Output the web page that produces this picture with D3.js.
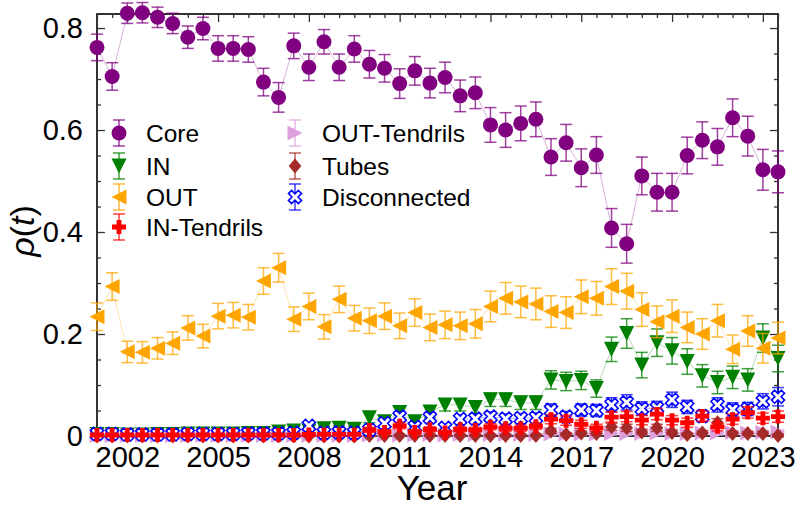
<!DOCTYPE html>
<html><head><meta charset="utf-8">
<script src="https://cdn.jsdelivr.net/npm/d3@7"></script>
<style>body{margin:0;background:#fff} svg{display:block;font-family:"Liberation Sans",Arial,sans-serif}</style>
</head><body><svg id="c" width="800" height="508"></svg>
<script>
const years = [2001,2001.5,2002,2002.5,2003,2003.5,2004,2004.5,2005,2005.5,2006,2006.5,2007,2007.5,2008,2008.5,2009,2009.5,2010,2010.5,2011,2011.5,2012,2012.5,2013,2013.5,2014,2014.5,2015,2015.5,2016,2016.5,2017,2017.5,2018,2018.5,2019,2019.5,2020,2020.5,2021,2021.5,2022,2022.5,2023,2023.5];

const core = [0.762,0.705,0.829,0.830,0.821,0.809,0.782,0.799,0.760,0.760,0.758,0.694,0.664,0.765,0.723,0.773,0.723,0.759,0.729,0.721,0.691,0.716,0.692,0.703,0.667,0.673,0.610,0.600,0.613,0.621,0.547,0.575,0.526,0.551,0.408,0.377,0.510,0.478,0.478,0.550,0.580,0.567,0.624,0.588,0.522,0.518];
const coreErr = [0.026,0.027,0.020,0.020,0.020,0.020,0.022,0.022,0.025,0.025,0.025,0.027,0.029,0.025,0.026,0.024,0.026,0.026,0.027,0.027,0.029,0.028,0.029,0.030,0.031,0.031,0.034,0.034,0.034,0.034,0.036,0.036,0.037,0.036,0.038,0.038,0.037,0.037,0.037,0.036,0.036,0.036,0.037,0.039,0.040,0.041];

const inn = [0.003,0.003,0.002,0.002,0.003,0.003,0.004,0.004,0.004,0.004,0.005,0.005,0.008,0.010,0.010,0.014,0.015,0.013,0.036,0.028,0.046,0.028,0.047,0.061,0.061,0.056,0.071,0.071,0.065,0.065,0.110,0.107,0.109,0.093,0.170,0.201,0.139,0.183,0.167,0.146,0.118,0.105,0.115,0.110,0.192,0.152];
const innErr = [0.002,0.002,0.002,0.002,0.002,0.002,0.002,0.002,0.002,0.002,0.002,0.002,0.003,0.004,0.004,0.005,0.005,0.005,0.010,0.009,0.011,0.009,0.011,0.012,0.012,0.012,0.013,0.013,0.013,0.013,0.018,0.018,0.018,0.017,0.024,0.029,0.025,0.027,0.026,0.025,0.022,0.022,0.022,0.022,0.028,0.026];

const out = [0.234,0.293,0.165,0.164,0.172,0.182,0.212,0.196,0.235,0.237,0.233,0.304,0.330,0.229,0.254,0.214,0.268,0.231,0.226,0.235,0.216,0.242,0.213,0.218,0.216,0.220,0.254,0.270,0.263,0.259,0.244,0.242,0.273,0.270,0.293,0.284,0.248,0.224,0.235,0.213,0.200,0.226,0.170,0.206,0.172,0.192];
const outErr = [0.027,0.027,0.021,0.021,0.021,0.022,0.024,0.023,0.025,0.025,0.025,0.026,0.028,0.024,0.026,0.024,0.026,0.025,0.025,0.026,0.025,0.027,0.026,0.027,0.027,0.028,0.030,0.031,0.031,0.031,0.031,0.031,0.033,0.033,0.035,0.035,0.033,0.031,0.032,0.030,0.030,0.032,0.028,0.030,0.029,0.031];

const inTendrils = [0.002,0.002,0.002,0.002,0.002,0.002,0.002,0.002,0.002,0.002,0.002,0.002,0.002,0.002,0.003,0.003,0.003,0.003,0.012,0.008,0.020,0.008,0.013,0.007,0.013,0.012,0.018,0.015,0.015,0.019,0.033,0.030,0.023,0.016,0.037,0.038,0.031,0.043,0.031,0.026,0.039,0.018,0.033,0.046,0.035,0.038];
const inTendrilsErr = [0.002,0.002,0.002,0.002,0.002,0.002,0.002,0.002,0.002,0.002,0.002,0.002,0.002,0.002,0.002,0.002,0.002,0.002,0.005,0.004,0.006,0.004,0.005,0.004,0.005,0.005,0.006,0.006,0.006,0.006,0.009,0.009,0.008,0.007,0.010,0.010,0.009,0.011,0.009,0.009,0.010,0.008,0.010,0.011,0.010,0.011];

const outTendrils = [0.001,0.001,0.001,0.001,0.001,0.001,0.001,0.001,0.001,0.001,0.001,0.001,0.001,0.001,0.001,0.001,0.001,0.001,0.002,0.002,0.002,0.002,0.003,0.002,0.003,0.003,0.003,0.003,0.003,0.003,0.004,0.004,0.004,0.004,0.005,0.005,0.005,0.006,0.005,0.005,0.006,0.006,0.007,0.006,0.007,0.008];
const outTendrilsErr = [0.001,0.001,0.001,0.001,0.001,0.001,0.001,0.001,0.001,0.001,0.001,0.001,0.001,0.001,0.001,0.001,0.001,0.001,0.002,0.002,0.002,0.002,0.002,0.002,0.002,0.002,0.002,0.002,0.002,0.002,0.003,0.003,0.003,0.003,0.003,0.003,0.003,0.004,0.003,0.003,0.004,0.004,0.004,0.004,0.004,0.004];

const tubes = [0.000,0.000,0.000,0.000,0.000,0.000,0.000,0.000,0.000,0.000,0.000,0.000,0.000,0.000,0.000,0.000,0.000,0.000,0.001,0.001,0.001,0.001,0.001,0.001,0.001,0.001,0.001,0.001,0.001,0.001,0.010,0.003,0.006,0.005,0.018,0.016,0.008,0.016,0.007,0.003,0.006,0.026,0.005,0.005,0.005,0.001];
const tubesErr = [0.001,0.001,0.001,0.001,0.001,0.001,0.001,0.001,0.001,0.001,0.001,0.001,0.001,0.001,0.001,0.001,0.001,0.001,0.002,0.002,0.002,0.002,0.002,0.002,0.002,0.002,0.002,0.002,0.002,0.002,0.005,0.003,0.004,0.004,0.007,0.007,0.005,0.007,0.005,0.003,0.004,0.008,0.004,0.004,0.004,0.003];

const disconnected = [0.004,0.004,0.003,0.003,0.003,0.003,0.004,0.004,0.004,0.004,0.005,0.005,0.005,0.006,0.020,0.006,0.007,0.006,0.012,0.025,0.038,0.018,0.036,0.016,0.033,0.034,0.038,0.034,0.035,0.036,0.051,0.038,0.051,0.050,0.061,0.066,0.054,0.055,0.071,0.057,0.039,0.061,0.052,0.053,0.068,0.077];
const disconnectedErr = [0.002,0.002,0.002,0.002,0.002,0.002,0.002,0.002,0.002,0.002,0.002,0.002,0.002,0.003,0.006,0.003,0.003,0.003,0.005,0.007,0.009,0.006,0.009,0.006,0.008,0.009,0.009,0.009,0.009,0.009,0.012,0.010,0.012,0.012,0.014,0.015,0.013,0.013,0.015,0.013,0.011,0.014,0.013,0.013,0.015,0.018];

const seriesNames = ["Core","IN","OUT","IN-Tendrils","OUT-Tendrils","Tubes","Disconnected"];
const xTickValues = [2002,2005,2008,2011,2014,2017,2020,2023];
const yTickValues = [0,0.2,0.4,0.6,0.8];
const yTickLabels = ["0","0.2","0.4","0.6","0.8"];

const seriesDefs = [
  {name:"Core", vals:core, err:coreErr, color:"#800080", shape:"circle"},
  {name:"IN", vals:inn, err:innErr, color:"#008000", shape:"down"},
  {name:"OUT", vals:out, err:outErr, color:"#FFA500", shape:"left"},
  {name:"IN-Tendrils", vals:inTendrils, err:inTendrilsErr, color:"#FF0000", shape:"plus"},
  {name:"OUT-Tendrils", vals:outTendrils, err:outTendrilsErr, color:"#DDA0DD", shape:"right"},
  {name:"Tubes", vals:tubes, err:tubesErr, color:"#A52A2A", shape:"thindiamond"},
  {name:"Disconnected", vals:disconnected, err:disconnectedErr, color:"#0000FF", shape:"x"}
];
const drawOrder = ["Core","IN","OUT","OUT-Tendrils","Tubes","Disconnected","IN-Tendrils"];

const L=97, R=778, T=14, B=436;
const x = d3.scaleLinear().domain([2001,2023.5]).range([L,R]);
const y = d3.scaleLinear().domain([0,0.8275]).range([B,T]);
const svg = d3.select("#c");

function markerPath(shape){
  const s=7.5;
  switch(shape){
    case "circle": return `M${s},0A${s},${s} 0 1,1 ${-s},0A${s},${s} 0 1,1 ${s},0Z`;
    case "down": return `M${-s},${-s}L${s},${-s}L0,${s}Z`;
    case "left": return `M${-s},0L${s},${-s}L${s},${s}Z`;
    case "right": return `M${s},0L${-s},${-s}L${-s},${s}Z`;
    case "plus": { const a=7, w=2.4;
      return `M${-w},${-a}L${w},${-a}L${w},${-w}L${a},${-w}L${a},${w}L${w},${w}L${w},${a}L${-w},${a}L${-w},${w}L${-a},${w}L${-a},${-w}L${-w},${-w}Z`; }
    case "thindiamond": return `M0,${-s}L${0.85*s},0L0,${s}L${-0.85*s},0Z`;
    case "x": { const a=7, w=2.2; const pts=[[-w,-a],[w,-a],[w,-w],[a,-w],[a,w],[w,w],[w,a],[-w,a],[-w,w],[-a,w],[-a,-w],[-w,-w]];
      const c=Math.SQRT1_2; return "M"+pts.map(p=>[(p[0]-p[1])*c,(p[0]+p[1])*c].map(v=>v.toFixed(2)).join(",")).join("L")+"Z"; }
  }
}

// frame
svg.append("rect").attr("x",L).attr("y",T).attr("width",R-L).attr("height",B-T)
  .attr("fill","none").attr("stroke","#000").attr("stroke-width",1.6);

// axes
function styleAxis(g){ g.select(".domain").remove(); g.selectAll(".tick line").attr("stroke","#333").attr("stroke-width",1.3); }
const minorX = d3.range(2001,2023.51,0.5).filter(v=>!xTickValues.includes(v));
const minorY = d3.range(0,0.8276,0.05).filter(v=>!yTickValues.some(t=>Math.abs(t-v)<1e-6));
const FS = 29;
svg.append("g").attr("transform",`translate(0,${B})`).call(d3.axisBottom(x).tickValues(xTickValues).tickFormat(d3.format("d")).tickSize(-8).tickPadding(10))
  .call(styleAxis).call(g=>g.selectAll("text").attr("font-size",FS).attr("font-family","Liberation Sans, Arial, sans-serif").attr("fill","#000"));
svg.append("g").attr("transform",`translate(0,${B})`).call(d3.axisBottom(x).tickValues(minorX).tickFormat("").tickSize(-4)).call(styleAxis);
svg.append("g").attr("transform",`translate(0,${T})`).call(d3.axisTop(x).tickValues(xTickValues).tickFormat("").tickSize(-8)).call(styleAxis);
svg.append("g").attr("transform",`translate(0,${T})`).call(d3.axisTop(x).tickValues(minorX).tickFormat("").tickSize(-4)).call(styleAxis);
svg.append("g").attr("transform",`translate(${L},0)`).call(d3.axisLeft(y).tickValues(yTickValues).tickFormat((d,i)=>yTickLabels[i]).tickSize(-8).tickPadding(14))
  .call(styleAxis).call(g=>g.selectAll("text").attr("font-size",FS).attr("font-family","Liberation Sans, Arial, sans-serif").attr("fill","#000"));
svg.append("g").attr("transform",`translate(${L},0)`).call(d3.axisLeft(y).tickValues(minorY).tickFormat("").tickSize(-4)).call(styleAxis);
svg.append("g").attr("transform",`translate(${R},0)`).call(d3.axisRight(y).tickValues(yTickValues).tickFormat("").tickSize(-8)).call(styleAxis);
svg.append("g").attr("transform",`translate(${R},0)`).call(d3.axisRight(y).tickValues(minorY).tickFormat("").tickSize(-4)).call(styleAxis);

// axis titles
svg.append("text").attr("x",432).attr("y",500).attr("text-anchor","middle").attr("font-size",35).text("Year");
const yl = svg.append("text").attr("transform","translate(34,231) rotate(-90)").attr("text-anchor","middle").attr("font-size",34);
yl.append("tspan").attr("font-style","italic").text("ρ");
yl.append("tspan").text("(");
yl.append("tspan").attr("font-style","italic").text("t");
yl.append("tspan").text(")");

// series
const line = d3.line().x((d,i)=>x(years[i])).y(d=>y(d));
const byName = Object.fromEntries(seriesDefs.map(s=>[s.name,s]));
drawOrder.forEach(n=>{
  const s = byName[n];
  const g = svg.append("g");
  g.append("path").attr("d",line(s.vals)).attr("fill","none").attr("stroke",s.color).attr("stroke-opacity",0.3).attr("stroke-width",1);
  const eb = g.append("g").attr("stroke",s.color).attr("stroke-opacity",0.75).attr("stroke-width",1.5);
  s.vals.forEach((v,i)=>{
    const cx=x(years[i]), y1=y(v-s.err[i]), y2=y(v+s.err[i]);
    eb.append("line").attr("x1",cx).attr("x2",cx).attr("y1",y1).attr("y2",y2);
    eb.append("line").attr("x1",cx-6).attr("x2",cx+6).attr("y1",y1).attr("y2",y1);
    eb.append("line").attr("x1",cx-6).attr("x2",cx+6).attr("y1",y2).attr("y2",y2);
  });
  const hollow = s.shape==="x";
  g.selectAll("path.m").data(s.vals).join("path").attr("class","m")
    .attr("transform",(d,i)=>`translate(${x(years[i])},${y(d)})`)
    .attr("d",markerPath(s.shape))
    .attr("fill",hollow?"#fff":s.color)
    .attr("stroke",hollow?s.color:"none").attr("stroke-width",1.6);
});

// legend
const legendPos = [
  {name:"Core",mx:119,tx:146,y:133},{name:"IN",mx:119,tx:146,y:166},{name:"OUT",mx:119,tx:146,y:197},{name:"IN-Tendrils",mx:119,tx:146,y:227},
  {name:"OUT-Tendrils",mx:295,tx:322,y:133},{name:"Tubes",mx:295,tx:322,y:166},{name:"Disconnected",mx:295,tx:322,y:197}
];
legendPos.forEach(p=>{
  const s = byName[p.name];
  const g = svg.append("g");
  const eb = g.append("g").attr("stroke",s.color).attr("stroke-opacity",0.75).attr("stroke-width",1.5);
  eb.append("line").attr("x1",p.mx).attr("x2",p.mx).attr("y1",p.y-13).attr("y2",p.y+13);
  eb.append("line").attr("x1",p.mx-6).attr("x2",p.mx+6).attr("y1",p.y-13).attr("y2",p.y-13);
  eb.append("line").attr("x1",p.mx-6).attr("x2",p.mx+6).attr("y1",p.y+13).attr("y2",p.y+13);
  const hollow = s.shape==="x";
  g.append("path").attr("transform",`translate(${p.mx},${p.y})`).attr("d",markerPath(s.shape))
    .attr("fill",hollow?"#fff":s.color).attr("stroke",hollow?s.color:"none").attr("stroke-width",1.6);
  g.append("text").attr("x",p.tx).attr("y",p.y).attr("dy","0.36em").attr("font-size",24.5).text(s.name);
});
</script></body></html>
